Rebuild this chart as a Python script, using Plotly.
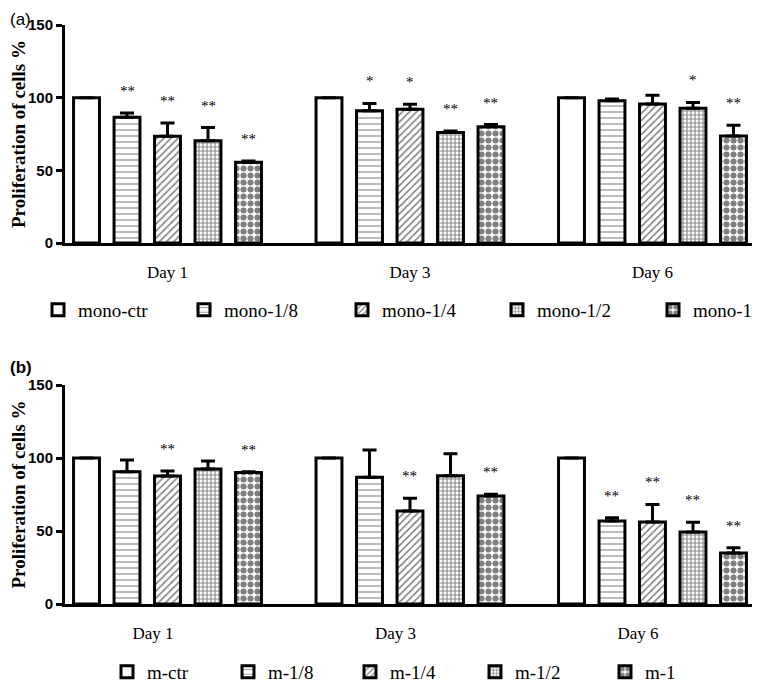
import plotly.graph_objects as go

days = ["Day 1", "Day 3", "Day 6"]

# Panel (a)
names_a = ["mono-ctr", "mono-1/8", "mono-1/4", "mono-1/2", "mono-1"]
vals_a = [
    [100, 100, 100],
    [86.5, 91.0, 97.9],
    [73.5, 92.0, 95.7],
    [70.4, 76.0, 92.7],
    [55.5, 80.0, 73.6],
]
errs_a = [
    [0, 0, 0],
    [3.0, 5.0, 1.2],
    [9.0, 3.5, 6.0],
    [9.0, 1.0, 4.0],
    [1.0, 1.5, 7.5],
]
sig_a = [
    ["", "", ""],
    ["**", "*", ""],
    ["**", "*", ""],
    ["**", "**", "*"],
    ["**", "**", "**"],
]

# Panel (b)
names_b = ["m-ctr", "m-1/8", "m-1/4", "m-1/2", "m-1"]
vals_b = [
    [100, 100, 100],
    [90.6, 86.8, 56.8],
    [87.7, 63.7, 56.2],
    [92.5, 87.9, 49.3],
    [90.0, 74.0, 34.9],
]
errs_b = [
    [0, 0, 0],
    [8.0, 18.7, 2.3],
    [3.4, 8.7, 12.0],
    [5.5, 15.0, 6.7],
    [0.5, 1.2, 3.7],
]
sig_b = [
    ["", "", ""],
    ["", "", "**"],
    ["**", "**", "**"],
    ["", "", "**"],
    ["**", "**", "**"],
]

patterns = [
    dict(shape=""),
    dict(shape="-", size=6, solidity=0.22, fgcolor="#333", bgcolor="white"),
    dict(shape="/", size=5, solidity=0.3, fgcolor="black", bgcolor="white"),
    dict(shape="+", size=4, solidity=0.5, fgcolor="#111", bgcolor="white"),
    dict(shape=".", size=7, solidity=0.6, fgcolor="black", bgcolor="white"),
]

# page body has an 8px default margin: work in window pixels, convert to paper units
OFF = 8
W, H = 760 - OFF, 682 - OFF


def py(win_y):
    return 1 - (win_y - OFF) / H


def px(win_x):
    return (win_x - OFF) / W


# legend item positions (window px, left of each legend entry)
leg_x_a = [38, 184, 342, 497, 653]
leg_x_b = [107, 228, 350, 475, 605]

fig = go.Figure()
xpos = [0, 1, 2]

BARGAP = 0.165
GROUPGAP = 0.36
slot = (1 - BARGAP) / 5

legend_font = dict(family="Liberation Serif", size=19, color="black")
legends = {}
annotations = []
lg_count = 0
for panel, (names, vals, errs, sigs, xa, ya, legx, legy) in enumerate([
    (names_a, vals_a, errs_a, sig_a, "x", "y", leg_x_a, 310),
    (names_b, vals_b, errs_b, sig_b, "x2", "y2", leg_x_b, 672),
]):
    for i, name in enumerate(names):
        lg_count += 1
        lg = "legend" if lg_count == 1 else f"legend{lg_count}"
        legends[lg] = dict(orientation="h", x=px(legx[i]), xanchor="left",
                           y=py(legy), yanchor="middle", bgcolor="rgba(0,0,0,0)",
                           font=legend_font)
        fig.add_trace(go.Bar(
            x=xpos, y=vals[i], name=name, xaxis=xa, yaxis=ya, legend=lg,
            marker=dict(color="white", line=dict(color="black", width=3),
                        pattern=patterns[i]),
            error_y=dict(type="data", array=errs[i], arrayminus=[0, 0, 0],
                         symmetric=False, color="black", thickness=3,
                         width=7, visible=True),
        ))
        for j in range(3):
            if sigs[i][j]:
                annotations.append(dict(
                    x=xpos[j] + (i - 2) * slot, y=vals[i][j] + errs[i][j],
                    xref=xa, yref=ya, text=sigs[i][j], showarrow=False,
                    yanchor="bottom", yshift=12,
                    font=dict(family="Liberation Serif", size=15, color="black"),
                ))

xdom = [px(65), px(757)]
xrange = [-0.4227, 2.431]

axis_common_x = dict(
    range=xrange, showline=True, linewidth=3, linecolor="black",
    showgrid=False, zeroline=False, ticks="outside", ticklen=12,
    tickcolor="rgba(0,0,0,0)", automargin=False,
    tickfont=dict(family="Liberation Serif", size=17, color="black"),
    domain=xdom,
)
axis_common_y = dict(
    range=[0, 150], tickvals=[0, 50, 100, 150], showline=True, linewidth=3,
    linecolor="black", showgrid=False, zeroline=False, ticks="outside",
    ticklen=6, tickwidth=3, tickcolor="black", automargin=False,
    tickfont=dict(family="Liberation Sans", size=15, color="black", weight="bold"),
    title=dict(text="Proliferation of cells %", standoff=12,
               font=dict(family="Liberation Serif", size=19, color="black", weight="bold")),
)

fig.update_layout(
    width=W, height=H, margin=dict(l=0, r=0, t=0, b=0, autoexpand=False),
    plot_bgcolor="white", paper_bgcolor="white",
    barmode="group", bargap=BARGAP, bargroupgap=GROUPGAP,
    xaxis=dict(axis_common_x, tickvals=[0, 1, 2], ticktext=days, anchor="y"),
    xaxis2=dict(axis_common_x, tickvals=[-0.06, 0.94, 1.94], ticktext=days, anchor="y2"),
    yaxis=dict(axis_common_y, domain=[py(243), py(25)], anchor="x"),
    yaxis2=dict(axis_common_y, domain=[py(604), py(385)], anchor="x2"),
    showlegend=True,
    annotations=annotations + [
        dict(x=px(8), y=py(8), xref="paper", yref="paper", text="(a)",
             showarrow=False, xanchor="left", yanchor="top",
             font=dict(family="Liberation Sans", size=17, color="black")),
        dict(x=px(8), y=py(367), xref="paper", yref="paper", text="(b)",
             showarrow=False, xanchor="left", yanchor="middle",
             font=dict(family="Liberation Sans", size=17, color="black", weight="bold")),
    ],
    **legends,
)

fig.write_html("out.html")
